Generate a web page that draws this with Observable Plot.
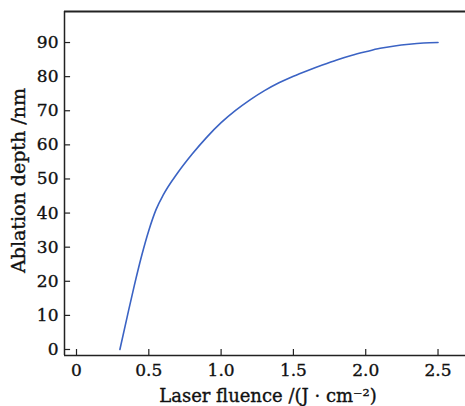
<!DOCTYPE html>
<html>
<head>
<meta charset="utf-8">
<script src="https://cdn.jsdelivr.net/npm/d3@7"></script>
<script src="https://cdn.jsdelivr.net/npm/@observablehq/plot@0.6"></script>
<style>
  html, body { margin: 0; padding: 0; background: #fff; }
  svg { display: block; }
  svg text { stroke: #111; stroke-width: 0.35px; }
</style>
</head>
<body>
<div id="chart"></div>
<script>
const fluence = [0.30, 0.35, 0.40, 0.45, 0.50, 0.55, 0.60, 0.70, 0.80, 0.90, 1.00, 1.10, 1.20, 1.30, 1.40, 1.50, 1.60, 1.70, 1.80, 1.90, 2.00, 2.10, 2.20, 2.30, 2.40, 2.50];
const depth   = [0, 9.5, 18.8, 27.4, 34.9, 41, 45.3, 51.8, 57.3, 62.2, 66.5, 70.1, 73.2, 75.9, 78.2, 80.1, 81.8, 83.4, 84.9, 86.2, 87.3, 88.3, 89.0, 89.5, 89.85, 90];
const xTicks = [0, 0.5, 1.0, 1.5, 2.0, 2.5];
const xTickLabels = ["0", "0.5", "1.0", "1.5", "2.0", "2.5"];
const yTicks = [0, 10, 20, 30, 40, 50, 60, 70, 80, 90];
const xLabel = "Laser fluence /(J · cm⁻²)";
const yLabel = "Ablation depth /nm";

const data = fluence.map((f, i) => ({f, d: depth[i]}));
const xDomain = [-0.083, 2.69];
const yDomain = [-1.76, 99.1];

const chart = Plot.plot({
  width: 465,
  height: 406,
  marginLeft: 64,
  marginRight: 0,
  marginTop: 11,
  marginBottom: 51,
  style: {fontFamily: "DejaVu Serif", fontSize: "17px", color: "#111", background: "#fff"},
  x: {domain: xDomain},
  y: {domain: yDomain},
  marks: [
    Plot.axisX({ticks: xTicks, tickFormat: (d) => xTickLabels[xTicks.indexOf(d)], tickSize: 0, tickPadding: 8, label: null}),
    Plot.ruleX(xTicks, {x: d => d, y1: yDomain[0], y2: 0.0, stroke: "#222", strokeWidth: 1.2}),
    Plot.axisY({ticks: yTicks, tickSize: 0, tickPadding: 6, label: null}),
    Plot.ruleY(yTicks, {y: d => d, x1: xDomain[0], x2: -0.041, stroke: "#222", strokeWidth: 1.2}),
    Plot.ruleX([xDomain[0]], {stroke: "#222", strokeWidth: 1.5}),
    Plot.ruleY([yDomain[0]], {stroke: "#222", strokeWidth: 1.5}),
    Plot.ruleY([yDomain[1]], {stroke: "#222", strokeWidth: 1.8}),
    Plot.line(data, {x: "f", y: "d", stroke: "#3b63c4", strokeWidth: 1.6, curve: "monotone-x"}),
    Plot.text([xLabel], {text: d => d, frameAnchor: "bottom", lineAnchor: "middle", textAnchor: "middle", dx: 3, dy: 41, fontSize: 18, fill: "#111"}),
    Plot.text([yLabel], {text: d => d, frameAnchor: "left", lineAnchor: "middle", textAnchor: "middle", rotate: -90, dx: -46, dy: -3, fontSize: 19, fill: "#111"})
  ]
});
document.getElementById("chart").appendChild(chart);
</script>
</body>
</html>
